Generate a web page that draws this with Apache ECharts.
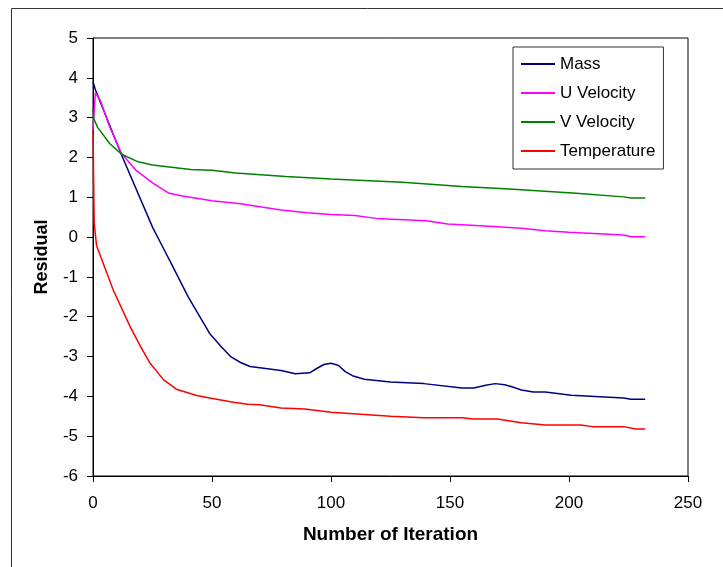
<!DOCTYPE html>
<html>
<head>
<meta charset="utf-8">
<script src="https://cdn.jsdelivr.net/npm/echarts@6/dist/echarts.min.js"></script>
<style>html,body{margin:0;padding:0;background:#fff}#c{width:723px;height:567px}</style>
</head>
<body>
<div id="c"></div>
<script>
// ---- data ----
var seriesNames = ['Mass', 'U Velocity', 'V Velocity', 'Temperature'];
var xTicks = [0, 50, 100, 150, 200, 250];
var yTicks = [-6, -5, -4, -3, -2, -1, 0, 1, 2, 3, 4, 5];

var massIter = [0, 1, 12, 25, 30, 33, 40, 49, 54, 58, 62, 66, 79, 85, 91, 94, 97, 100, 103, 106, 109, 114, 125, 139, 155, 160, 165, 169, 173, 176, 180, 185, 190, 201, 223, 226, 232];
var massRes  = [3.9, 3.7, 2.06, 0.25, -0.33, -0.68, -1.5, -2.42, -2.76, -3.01, -3.15, -3.25, -3.35, -3.43, -3.41, -3.3, -3.2, -3.17, -3.22, -3.38, -3.48, -3.57, -3.64, -3.68, -3.79, -3.79, -3.72, -3.68, -3.71, -3.76, -3.84, -3.89, -3.89, -3.97, -4.04, -4.07, -4.07];

var uIter = [0, 1, 3, 7, 12, 18, 25, 32, 37, 50, 62, 79, 90, 100, 110, 119, 140, 149, 159, 170, 180, 190, 200, 223, 226, 232];
var uRes  = [2.7, 3.62, 3.44, 2.77, 2.1, 1.68, 1.36, 1.1, 1.04, 0.91, 0.84, 0.68, 0.61, 0.57, 0.54, 0.47, 0.41, 0.33, 0.3, 0.26, 0.22, 0.16, 0.12, 0.05, 0.01, 0.01];

var vIter = [0, 0.3, 2, 7, 12, 19, 25, 41, 50, 60, 81, 100, 130, 155, 175, 203, 223, 226, 232];
var vRes  = [3.23, 2.98, 2.75, 2.35, 2.08, 1.89, 1.81, 1.7, 1.68, 1.61, 1.52, 1.46, 1.38, 1.27, 1.21, 1.1, 1.01, 0.98, 0.98];

var tIter = [0, 0.5, 1.5, 8.5, 15.6, 20, 24, 29.6, 35, 43.6, 49, 59, 65, 70, 79, 89, 100, 125, 139, 155, 160, 170, 180, 190, 205, 210, 223, 228, 232];
var tRes  = [2.69, 0.35, -0.22, -1.33, -2.25, -2.75, -3.17, -3.58, -3.82, -3.98, -4.04, -4.15, -4.2, -4.21, -4.29, -4.32, -4.4, -4.5, -4.54, -4.54, -4.57, -4.57, -4.66, -4.72, -4.72, -4.76, -4.76, -4.82, -4.82];

var colors = ['#000080', '#FF00FF', '#008000', '#FF0000'];

function pairs(xs, ys) { return xs.map(function (x, i) { return [x, ys[i]]; }); }
var allData = [pairs(massIter, massRes), pairs(uIter, uRes), pairs(vIter, vRes), pairs(tIter, tRes)];

var FONT = 'Arial, "Liberation Sans", sans-serif';
var chart = echarts.init(document.getElementById('c'), null, { renderer: 'canvas' });
chart.setOption({
  backgroundColor: '#fff',
  animation: false,
  color: colors,
  graphic: [{
    type: 'rect', silent: true, z: -10,
    shape: { x: 11.5, y: 8.5, width: 1000, height: 1000 },
    style: { fill: 'none', stroke: '#333', lineWidth: 1 }
  }],
  grid: { left: 93, top: 38, right: 35, bottom: 91, show: true, borderColor: '#000', borderWidth: 1, backgroundColor: 'transparent' },
  legend: {
    orient: 'vertical', left: 513, top: 47,
    padding: [7, 8, 8, 8],
    itemWidth: 34, itemHeight: 2, itemGap: 9,
    icon: 'rect',
    borderColor: '#333', borderWidth: 1,
    textStyle: { fontFamily: FONT, fontSize: 17, color: '#000', lineHeight: 20 },
    data: seriesNames
  },
  xAxis: {
    type: 'value', min: xTicks[0], max: xTicks[xTicks.length - 1], interval: 50,
    name: 'Number of Iteration', nameLocation: 'middle', nameGap: 49,
    nameTextStyle: { fontFamily: FONT, fontSize: 19, fontWeight: 'bold', color: '#000' },
    axisLine: { onZero: false, lineStyle: { color: '#000', width: 1 } },
    axisTick: { show: true, length: 6, inside: false, lineStyle: { color: '#000' } },
    axisLabel: { fontFamily: FONT, fontSize: 17, color: '#000', margin: 19 },
    splitLine: { show: false }
  },
  yAxis: {
    type: 'value', min: yTicks[0], max: yTicks[yTicks.length - 1], interval: 1,
    name: 'Residual', nameLocation: 'middle', nameGap: 42,
    nameTextStyle: { fontFamily: FONT, fontSize: 18, fontWeight: 'bold', color: '#000' },
    axisLine: { show: true, onZero: false, lineStyle: { color: '#000', width: 1 } },
    axisTick: { show: true, length: 6, inside: false, lineStyle: { color: '#000' } },
    axisLabel: { fontFamily: FONT, fontSize: 17, color: '#000', margin: 15 },
    splitLine: { show: false }
  },
  series: seriesNames.map(function (n, i) {
    return {
      name: n, type: 'line', data: allData[i], symbol: 'none', smooth: false,
      lineStyle: { width: 1.5, color: colors[i] }, itemStyle: { color: colors[i] }
    };
  })
});
</script>
</body>
</html>
